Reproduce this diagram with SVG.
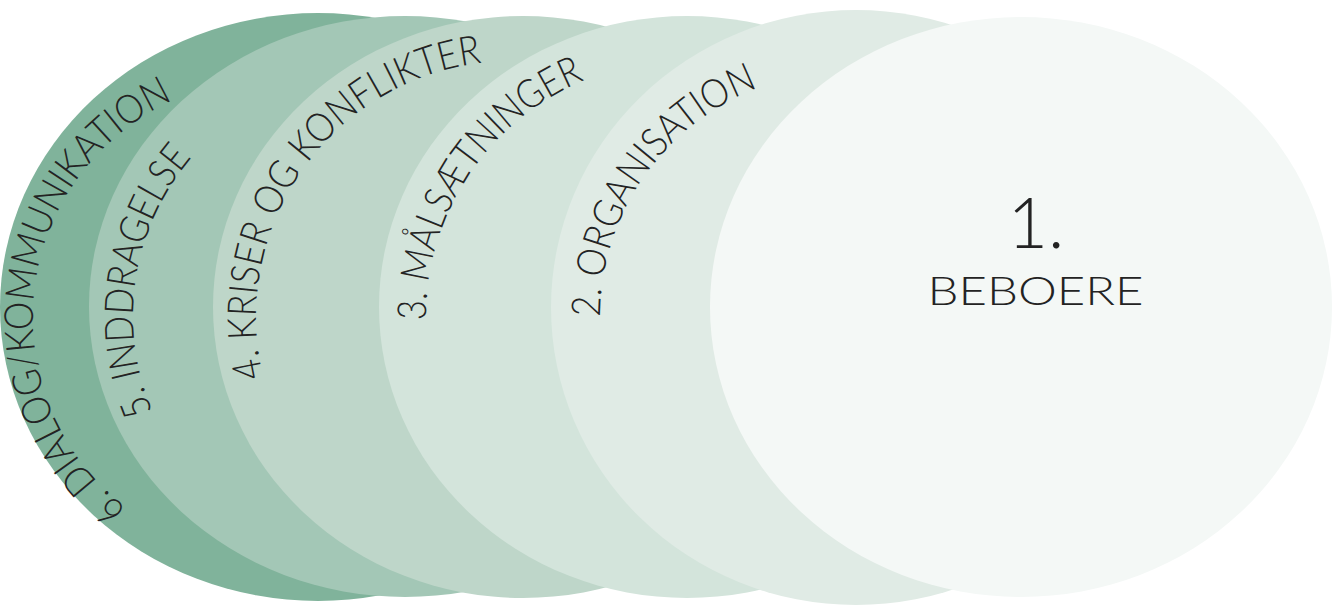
<svg xmlns="http://www.w3.org/2000/svg" xmlns:xlink="http://www.w3.org/1999/xlink" width="1340" height="606" viewBox="0 0 1340 606">
  <style>
    .lbl { font-family: "Lato", "Open Sans", "Liberation Sans", sans-serif; font-weight: 300; fill: #232323; }
    .arc { font-size: 40px; }
    .num { font-size: 70px; }
    .title { font-size: 39px; }
  </style>
  <defs>
    <!-- baselines for the curved ring labels (circular arcs, drawn clockwise) -->
    <path id="arc6" d="M126.8,507.9 A239,239 0 0 1 230.5,82.6"/>
    <path id="arc5" d="M152.7,411.7 A243,243 0 0 1 236.6,116.9"/>
    <path id="arc4" d="M263.1,376.8 A256,256 0 0 1 534.3,62.0"/>
    <path id="arc3" d="M426,320.1 A256,256 0 0 1 646.4,63.5"/>
    <path id="arc2" d="M600,317 A245,245 0 0 1 810.9,74.4"/>
  </defs>

  <rect width="1340" height="606" fill="#ffffff"/>

  <!-- rings, back to front -->
  <g id="node-6">
    <ellipse cx="318" cy="307" rx="318" ry="294" fill="#80b39b"/>
    <text class="lbl arc"><textPath xlink:href="#arc6" href="#arc6" textLength="493" lengthAdjust="spacingAndGlyphs">6. DIALOG/KOMMUNIKATION</textPath></text>
  </g>

  <g id="node-5">
    <ellipse cx="405" cy="306.5" rx="316" ry="290.5" fill="#a3c7b6"/>
    <text class="lbl arc"><textPath xlink:href="#arc5" href="#arc5" textLength="271" lengthAdjust="spacingAndGlyphs">5. INDDRAGELSE</textPath></text>
  </g>

  <g id="node-4">
    <ellipse cx="523" cy="307" rx="310" ry="291" fill="#bed6c9"/>
    <text class="lbl arc"><textPath xlink:href="#arc4" href="#arc4" textLength="432" lengthAdjust="spacingAndGlyphs">4. KRISER OG KONFLIKTER</textPath></text>
  </g>

  <g id="node-3">
    <ellipse cx="687" cy="307" rx="308" ry="291" fill="#d3e4db"/>
    <text class="lbl arc"><textPath xlink:href="#arc3" href="#arc3" textLength="305" lengthAdjust="spacingAndGlyphs">3. MÅLSÆTNINGER</textPath></text>
  </g>

  <g id="node-2">
    <ellipse cx="856" cy="307.5" rx="305" ry="297.5" fill="#e0ebe5"/>
    <text class="lbl arc"><textPath xlink:href="#arc2" href="#arc2" textLength="296" lengthAdjust="spacingAndGlyphs">2. ORGANISATION</textPath></text>
  </g>

  <g id="node-1">
    <ellipse cx="1021" cy="307" rx="311" ry="290" fill="#f4f8f6"/>
    <text class="lbl num" x="1036" y="248" text-anchor="middle">1.</text>
    <text class="lbl title" x="1035.5" y="305" text-anchor="middle" textLength="216" lengthAdjust="spacingAndGlyphs">BEBOERE</text>
  </g>

  <g id="connectors"/>
</svg>
